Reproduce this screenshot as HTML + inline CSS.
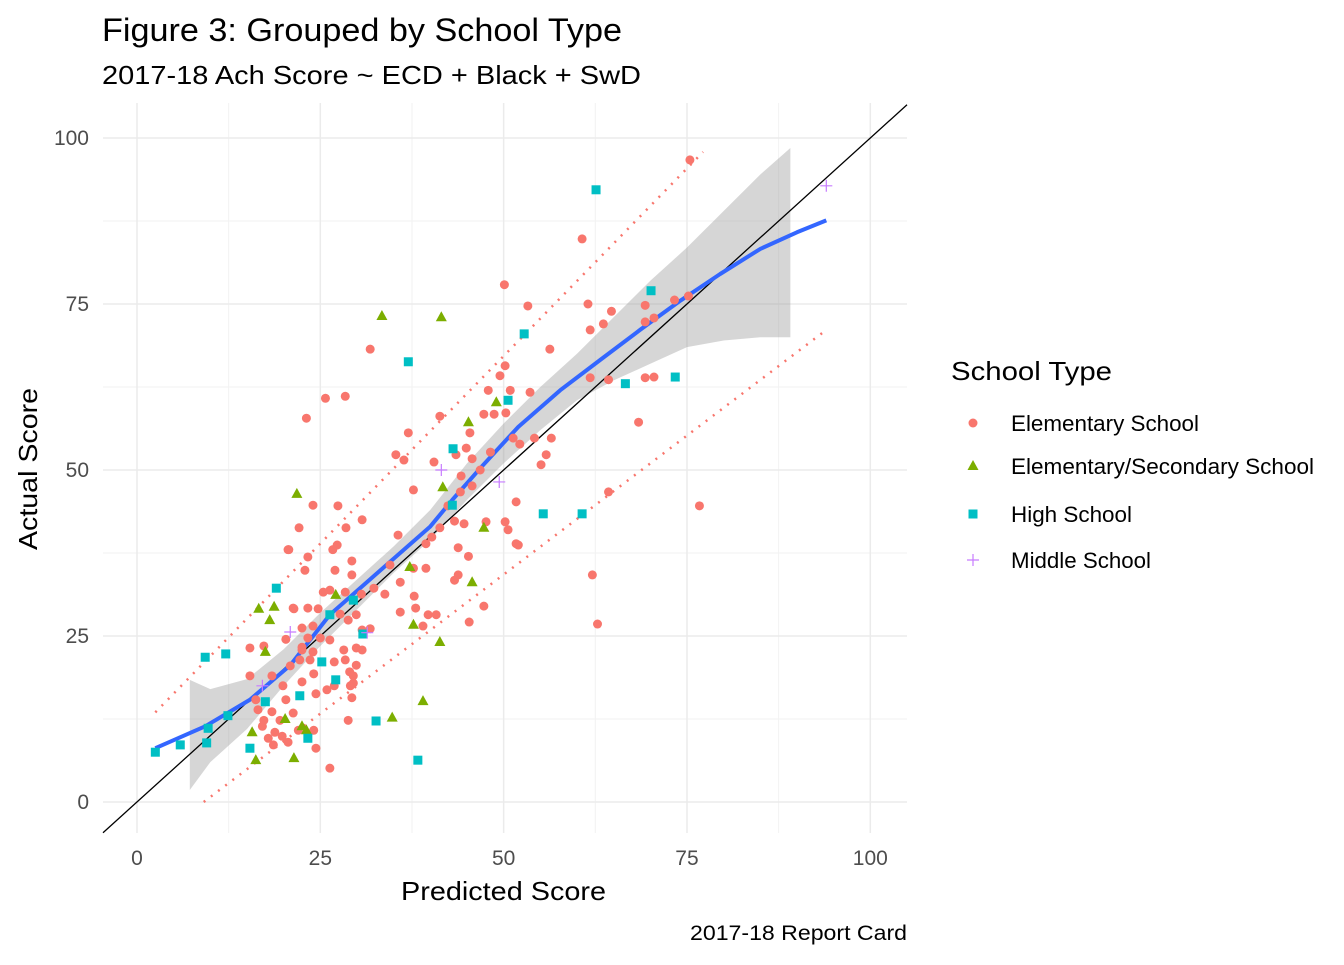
<!DOCTYPE html>
<html><head><meta charset="utf-8"><style>
body{margin:0;background:#fff;font-family:"Liberation Sans",Arial,sans-serif;}
svg text{font-family:"Liberation Sans",Arial,sans-serif;}
</style></head><body>
<svg id="chart" width="1344" height="960">
<text x="102" y="41" font-size="32" textLength="520" lengthAdjust="spacingAndGlyphs" fill="#000">Figure 3: Grouped by School Type</text>
<text x="102" y="84" font-size="26" textLength="539" lengthAdjust="spacingAndGlyphs" fill="#000">2017-18 Ach Score ~ ECD + Black + SwD</text>
<g id="grid"></g><g id="ribbon"></g><g id="lines"></g><g id="points"></g><g id="axes"></g>
<text x="401" y="900" font-size="26" textLength="205" lengthAdjust="spacingAndGlyphs">Predicted Score</text>
<text transform="translate(37,550) rotate(-90)" font-size="26" textLength="162" lengthAdjust="spacingAndGlyphs">Actual Score</text>
<text x="690" y="940" font-size="21" textLength="217" lengthAdjust="spacingAndGlyphs">2017-18 Report Card</text>
<g id="legend">
<text x="951" y="380" font-size="26" textLength="161" lengthAdjust="spacingAndGlyphs">School Type</text>
</g>
</svg>
<script>
const xTicks=[0,25,50,75,100];
const yTicks=[0,25,50,75,100];
const groups=["Elementary School","Elementary/Secondary School","High School","Middle School"];
const legendWidths=[188,303,121,140];
const colors=["#F8766D","#7CAE00","#00BFC4","#C77CFF"];
const elemX=[75.4,60.7,50.1,53.3,61.5,64.7,63.6,61.8,69.3,70.5,69.3,73.3,75.2,31.8,56.3,23.1,25.7,28.4,50.2,49.5,50.9,47.9,53.6,70.5,69.3,68.4,61.8,64.3,41.3,47.3,48.7,45.4,37.0,35.3,36.4,44.9,43.5,45.7,51.3,54.2,56.5,37.7,40.5,44.2,44.1,45.7,46.8,42.4,43.3,44.6,41.3,40.2,39.4,43.8,45.2,43.8,43.3,47.6,50.2,50.6,51.7,52.0,35.6,37.7,34.5,39.4,35.9,37.8,38.0,35.9,39.7,40.8,39.0,45.3,47.3,30.7,28.5,27.3,26.7,27.4,24.0,22.1,20.6,23.3,29.3,22.9,27.0,29.3,26.3,25.4,28.4,30.6,32.3,33.8,21.3,23.3,24.7,27.7,28.8,29.9,31.8,22.5,24.0,23.3,20.3,22.5,25.0,26.3,28.2,29.9,30.7,28.4,26.9,29.9,29.0,29.5,20.9,22.2,23.6,18.4,19.9,22.5,24.1,25.9,26.9,29.1,24.4,20.3,16.5,18.4,21.3,17.3,19.5,17.1,18.8,19.8,22.0,24.1,20.6,17.9,18.6,24.4,28.8,29.3,29.5,26.3,15.4,15.4,16.2,17.3,20.7,21.4,22.5,24.0,64.3,62.1,62.8,76.7,55.8,51.7,55.1,30.7,50.3,52.2,48.2];
const elemY=[96.7,84.8,77.9,74.7,75.0,73.9,72.0,71.1,74.8,72.9,72.3,75.6,76.2,68.2,68.2,57.8,60.8,61.1,65.7,64.2,62.0,62.0,61.7,64.0,63.9,57.2,63.9,63.6,58.1,58.4,58.4,55.6,55.6,52.3,51.5,53.3,52.3,51.7,54.8,54.8,54.8,47.0,51.2,49.1,46.7,47.6,50.0,44.6,42.3,41.9,41.3,39.9,38.9,38.3,37.0,34.2,33.4,42.2,42.2,41.0,45.2,38.7,40.2,35.2,35.7,35.2,33.1,31.0,29.2,28.6,28.2,28.2,26.5,27.1,29.5,42.5,41.3,38.7,38.0,44.6,44.7,41.3,38.0,36.9,36.3,34.9,34.9,34.2,31.9,31.6,31.6,31.3,32.2,31.3,29.2,29.2,29.1,28.3,27.4,28.2,26.1,26.2,26.5,24.7,24.5,22.9,24.7,24.4,22.9,23.2,22.9,21.4,21.1,20.6,19.6,19.0,20.5,21.4,21.4,19.0,17.5,18.1,19.3,16.9,17.5,17.5,16.3,15.4,13.9,13.6,13.4,12.3,12.3,11.4,10.5,9.9,10.8,10.8,9.0,9.6,8.6,8.1,12.3,15.7,17.9,5.1,19.0,23.2,15.4,23.5,38.0,29.1,23.3,22.6,46.7,34.2,26.8,44.6,52.3,38.9,50.8,25.9,58.6,53.9,52.7];
const esX=[33.4,41.5,21.8,41.7,45.2,49.0,47.3,45.7,37.2,37.7,41.3,39.0,34.8,27.1,16.6,18.7,18.1,17.5,20.2,21.4,16.2,15.7,23.1,22.5];
const esY=[73.2,73.0,46.4,47.4,57.2,60.2,41.3,33.1,35.4,26.7,24.1,15.2,12.7,31.2,29.1,29.4,27.4,22.6,12.5,6.6,6.3,10.5,10.8,11.4];
const hsX=[2.5,5.9,9.3,9.5,12.1,9.7,15.4,17.5,19.0,22.2,23.3,25.2,26.3,27.1,29.5,30.8,32.6,37.0,38.3,43.1,43.0,50.6,52.8,55.4,60.7,62.6,66.6,70.1,73.4,12.4];
const hsY=[7.5,8.6,21.8,8.9,22.3,11.1,8.1,15.1,32.2,16.0,9.6,21.1,28.2,18.4,30.4,25.3,12.2,66.3,6.3,53.2,44.7,60.5,70.5,43.4,43.4,92.2,63.0,77.0,64.0,13.0];
const msX=[41.5,49.4,94.0,20.9,17.1,31.4];
const msY=[50.0,48.2,92.8,25.6,17.5,25.5];
const loessX=[2.5,9.3,15.4,20.9,26.3,33.2,40.0,43.0,47.0,52.0,57.7,63.2,68.6,74.1,79.5,85.0,90.0,94.0];
const loessY=[8.1,11.4,15.4,20.6,28.2,34.9,41.5,45.5,50.5,56.5,62.0,66.6,71.1,75.5,79.5,83.3,85.8,87.6];
const ribX=[7.2,10,15,20,25,30,35,40,45,50,55,60,65,70,75,80,85,89.1];
const ribHi=[18.4,17,18.5,23,28.5,33.5,38.5,44,51,57,62.5,67.5,73,78.5,83.5,89,94.5,98.5];
const ribLo=[1.8,6,11,17.5,23.5,29,34.5,39.5,45.5,51,56,60.5,63.5,66,68.5,69.5,70,70];
const upperX=[2.5,77.2];const upperY=[13.5,97.9];
const lowerX=[9.1,94.0];const lowerY=[0,71.1];

const NS="http://www.w3.org/2000/svg";
const L=103,R=907,T=103,B=833;
const sx=v=>137+v*7.333;
const sy=v=>802-v*6.64;
function mk(tag,attrs,parent){const e=document.createElementNS(NS,tag);for(const k in attrs)e.setAttribute(k,attrs[k]);document.getElementById(parent).appendChild(e);return e;}
[-12.5,12.5,37.5,62.5,87.5].forEach(v=>{
 if(sx(v)>=L){const g=mk('line',{x1:sx(v),x2:sx(v),y1:T,y2:B,stroke:'#f2f2f2','stroke-width':1},'grid');}
 if(sy(v)<=B&&sy(v)>=T){const h=mk('line',{x1:L,x2:R,y1:sy(v),y2:sy(v),stroke:'#f2f2f2','stroke-width':1},'grid');}
});
xTicks.forEach(v=>{
 const g=mk('line',{x1:sx(v),x2:sx(v),y1:T,y2:B,stroke:'#ebebeb','stroke-width':1.5},'grid');
 
 
 const t=mk('text',{x:sx(v),y:865,'font-size':21,fill:'#4d4d4d','text-anchor':'middle'},'axes');t.textContent=v;
 
 
});
yTicks.forEach(v=>{
 const g=mk('line',{x1:L,x2:R,y1:sy(v),y2:sy(v),stroke:'#ebebeb','stroke-width':1.5},'grid');
 
 
 const t=mk('text',{x:89,y:sy(v)+7,'font-size':21,fill:'#4d4d4d','text-anchor':'end'},'axes');t.textContent=v;
 
 
});
let d='M'+ribX.map((x,i)=>sx(x)+','+sy(ribHi[i])).join('L')+'L'+ribX.slice().reverse().map((x,i)=>sx(x)+','+sy(ribLo[ribLo.length-1-i])).join('L')+'Z';
const rb=mk('path',{d:d,fill:'#999','fill-opacity':0.4},'ribbon');


const id=mk('line',{x1:L,y1:sy((L-137)/7.333),x2:R,y2:sy((R-137)/7.333),stroke:'#000','stroke-width':1.3},'lines');


const up=mk('line',{x1:sx(upperX[0]),y1:sy(upperY[0]),x2:sx(upperX[1]),y2:sy(upperY[1]),stroke:'#F8766D','stroke-width':2.5,'stroke-dasharray':'2 7'},'lines');


const lo=mk('line',{x1:sx(lowerX[0]),y1:sy(lowerY[0]),x2:sx(lowerX[1]),y2:sy(lowerY[1]),stroke:'#F8766D','stroke-width':2.5,'stroke-dasharray':'2 7'},'lines');


const ls=mk('polyline',{points:loessX.map((x,i)=>sx(x)+','+sy(loessY[i])).join(' '),fill:'none',stroke:'#3366FF','stroke-width':4,'stroke-linejoin':'round'},'lines');


function marker(kind,cx,cy,parent){
 let e;
 if(kind===0)e=mk('circle',{cx:cx,cy:cy,r:4.5,fill:colors[0]},parent);
 else if(kind===1)e=mk('polygon',{points:`${cx},${cy-6} ${cx-5.5},${cy+4} ${cx+5.5},${cy+4}`,fill:colors[1]},parent);
 else if(kind===2)e=mk('rect',{x:cx-4.5,y:cy-4.5,width:9,height:9,fill:colors[2]},parent);
 else e=mk('path',{d:`M${cx-6},${cy}H${cx+6}M${cx},${cy-6}V${cy+6}`,stroke:colors[3],'stroke-width':1.2,fill:'none'},parent);
 return e;
}
[[elemX,elemY],[esX,esY],[hsX,hsY],[msX,msY]].forEach((s,k)=>{
 s[0].forEach((x,i)=>{
  const e=marker(k,sx(x),sy(s[1][i]),'points');
  
  
 });
});
const ly=[423,466,514,560];
groups.forEach((g,k)=>{
 const e=marker(k,973,ly[k],'legend');
 
 
 const t=mk('text',{x:1011,y:ly[k]+8,'font-size':22,textLength:legendWidths[k],lengthAdjust:'spacingAndGlyphs'},'legend');t.textContent=g;
 
 
});
</script>
</body></html>
